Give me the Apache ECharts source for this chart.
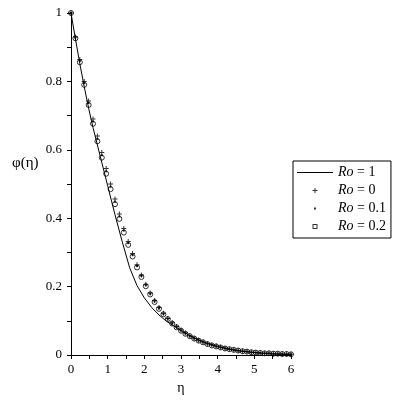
<!DOCTYPE html>
<html>
<head>
<meta charset="utf-8">
<script src="https://cdn.jsdelivr.net/npm/echarts@6/dist/echarts.min.js"></script>
<style>html,body{margin:0;padding:0;background:#fff}#c{width:401px;height:401px}</style>
</head>
<body>
<div id="c"></div>
<script>
// Data
var etaPts = [0,0.12,0.24,0.36,0.48,0.6,0.72,0.84,0.96,1.08,1.2,1.32,1.44,1.56,1.68,1.8,1.92,2.04,2.16,2.28,2.4,2.52,2.64,2.76,2.88,3,3.12,3.24,3.36,3.48,3.6,3.72,3.84,3.96,4.08,4.2,4.32,4.44,4.56,4.68,4.8,4.92,5.04,5.16,5.28,5.4,5.52,5.64,5.76,5.88,6];
var phiRo0 = [1,0.930,0.864,0.800,0.743,0.690,0.640,0.592,0.545,0.500,0.456,0.412,0.370,0.332,0.297,0.264,0.234,0.207,0.181,0.159,0.139,0.122,0.107,0.094,0.083,0.073,0.064,0.056,0.049,0.043,0.038,0.033,0.029,0.026,0.023,0.020,0.017,0.015,0.013,0.011,0.010,0.008,0.007,0.006,0.005,0.005,0.004,0.004,0.003,0.003,0.002];
var phiRo01 = [1,0.928,0.860,0.795,0.737,0.683,0.632,0.584,0.537,0.492,0.448,0.405,0.364,0.327,0.292,0.260,0.231,0.204,0.179,0.157,0.137,0.120,0.106,0.093,0.082,0.072,0.063,0.055,0.048,0.042,0.037,0.033,0.029,0.025,0.022,0.019,0.017,0.015,0.013,0.011,0.010,0.008,0.007,0.006,0.005,0.005,0.004,0.004,0.003,0.003,0.002];
var phiRo02 = [1,0.926,0.856,0.790,0.731,0.676,0.625,0.577,0.530,0.485,0.441,0.398,0.358,0.322,0.288,0.256,0.228,0.201,0.177,0.155,0.135,0.119,0.105,0.092,0.081,0.071,0.062,0.055,0.048,0.042,0.037,0.032,0.028,0.025,0.022,0.019,0.017,0.015,0.013,0.011,0.010,0.008,0.007,0.006,0.005,0.005,0.004,0.004,0.003,0.003,0.002];
var etaLine = [0,0.12,0.24,0.36,0.48,0.6,0.8,1.0,1.2,1.4,1.6,1.8,2.0,2.2,2.4,2.6,2.8,3.0,3.2,3.4,3.6,3.8,4.0,4.5,5.0,5.5,6.0];
var phiRo1 = [1,0.925,0.852,0.785,0.722,0.665,0.580,0.495,0.410,0.330,0.255,0.203,0.167,0.139,0.117,0.099,0.085,0.072,0.059,0.048,0.039,0.031,0.025,0.013,0.007,0.003,0.001];
var seriesNames = ['Ro = 1','Ro = 0','Ro = 0.1','Ro = 0.2'];
var xTicks = {min:0, max:6, interval:1};
var yTicks = {min:0, max:1, interval:0.2};

function pairs(xs, ys){ return xs.map(function(x,i){ return [x, ys[i]]; }); }

var serif = 'Liberation Serif';
var plusPath = 'path://M2,0H3V2H5V3H3V5H2V3H0V2H2Z';
var chart = echarts.init(document.getElementById('c'), null, {renderer:'canvas'});
chart.setOption({
  animation: false,
  backgroundColor: '#fff',
  title: {
    text: 'φ(η)', left: 7, top: 151,
    textStyle: {fontFamily: serif, fontSize: 15, fontWeight: 'normal', color: '#000'}
  },
  grid: {left: 71, right: 110, top: 13, bottom: 46, containLabel: false},
  xAxis: {
    type: 'value', min: xTicks.min, max: xTicks.max, interval: xTicks.interval,
    name: 'η', nameLocation: 'middle', nameGap: 26,
    nameTextStyle: {fontFamily: serif, fontSize: 14, color: '#000'},
    axisLine: {show: true, onZero: false, lineStyle: {color: '#000', width: 1}},
    axisTick: {show: true, length: 4, lineStyle: {color: '#000'}},
    minorTick: {show: true, splitNumber: 2, length: 4, lineStyle: {color: '#000'}},
    axisLabel: {fontFamily: serif, fontSize: 13, color: '#000', margin: 8},
    splitLine: {show: false}
  },
  yAxis: {
    type: 'value', min: yTicks.min, max: yTicks.max, interval: yTicks.interval,
    axisLine: {show: true, onZero: false, lineStyle: {color: '#000', width: 1}},
    axisTick: {show: true, length: 4, lineStyle: {color: '#000'}},
    minorTick: {show: true, splitNumber: 2, length: 4, lineStyle: {color: '#000'}},
    axisLabel: {fontFamily: serif, fontSize: 13, color: '#000', margin: 9},
    splitLine: {show: false}
  },
  legend: {
    orient: 'vertical', left: 293, top: 161,
    data: [
      {name: seriesNames[0], icon: 'path://M0,0H36V1H0Z', itemStyle: {color: '#000', borderWidth: 0}},
      {name: seriesNames[1], icon: plusPath, itemStyle: {color: '#000', borderWidth: 0}},
      {name: seriesNames[2], icon: 'path://M0,0M5,5M1.5,1.5H3.5V3.5H1.5Z', itemStyle: {color: '#000', borderWidth: 0}},
      {name: seriesNames[3], icon: 'path://M0,0H5V5H0Z M1,1V4H4V1Z', itemStyle: {color: '#000', borderWidth: 0}}
    ],
    symbolKeepAspect: true,
    borderColor: '#000', borderWidth: 1, borderRadius: 0,
    padding: [4.5, 5, 4.5, 4],
    itemWidth: 36, itemHeight: 5, itemGap: 4,
    textStyle: {fontFamily: serif, fontSize: 14, color: '#000', lineHeight: 14,
      rich: {i: {fontFamily: serif, fontSize: 14, fontStyle: 'italic', color: '#000', lineHeight: 14}}},
    formatter: function(n){ return n.replace('Ro', '{i|Ro}'); }
  },
  series: [
    {name: seriesNames[0], type: 'line', data: pairs(etaLine, phiRo1), symbol: 'none',
     lineStyle: {color: '#000', width: 1}, itemStyle: {color: '#000'}, z: 2},
    {name: seriesNames[1], type: 'scatter', data: pairs(etaPts, phiRo0),
     symbol: plusPath, symbolSize: 5,
     itemStyle: {color: '#000'}, z: 3},
    {name: seriesNames[2], type: 'scatter', data: pairs(etaPts, phiRo01),
     symbol: 'rect', symbolSize: 2, itemStyle: {color: '#000'}, z: 3},
    {name: seriesNames[3], type: 'scatter', data: pairs(etaPts, phiRo02),
     symbol: 'circle', symbolSize: 5,
     itemStyle: {color: 'rgba(0,0,0,0)', borderColor: '#000', borderWidth: 1}, z: 3}
  ]
});
</script>
</body>
</html>
